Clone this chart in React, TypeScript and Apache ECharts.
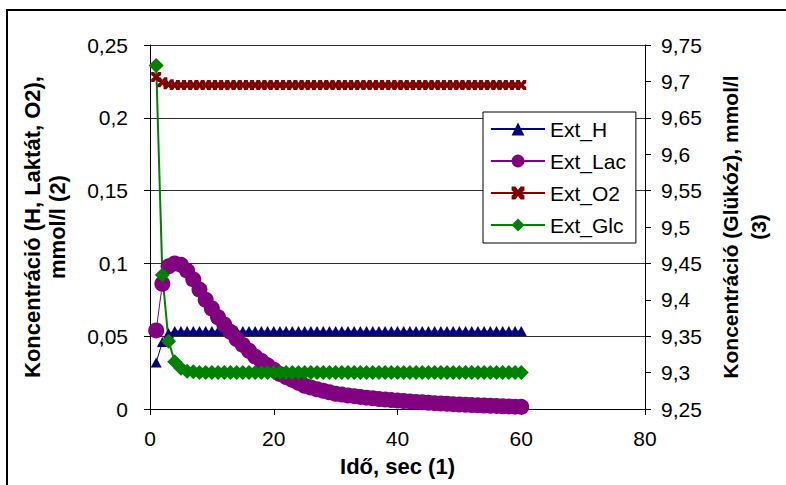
import React, { useEffect, useRef } from "react";
import * as echarts from "echarts";

const timeSec = [
  1, 2, 3, 4, 5, 6, 7, 8, 9, 10, 11, 12, 13, 14, 15, 16, 17, 18, 19, 20,
  21, 22, 23, 24, 25, 26, 27, 28, 29, 30, 31, 32, 33, 34, 35, 36, 37, 38, 39, 40,
  41, 42, 43, 44, 45, 46, 47, 48, 49, 50, 51, 52, 53, 54, 55, 56, 57, 58, 59, 60,
];

const extH = [
  0.032, 0.046, 0.052, 0.0535, 0.0535, 0.0535, 0.0535, 0.0535, 0.0535, 0.0535,
  0.0535, 0.0535, 0.0535, 0.0535, 0.0535, 0.0535, 0.0535, 0.0535, 0.0535, 0.0535,
  0.0535, 0.0535, 0.0535, 0.0535, 0.0535, 0.0535, 0.0535, 0.0535, 0.0535, 0.0535,
  0.0535, 0.0535, 0.0535, 0.0535, 0.0535, 0.0535, 0.0535, 0.0535, 0.0535, 0.0535,
  0.0535, 0.0535, 0.0535, 0.0535, 0.0535, 0.0535, 0.0535, 0.0535, 0.0535, 0.0535,
  0.0535, 0.0535, 0.0535, 0.0535, 0.0535, 0.0535, 0.0535, 0.0535, 0.0535, 0.0535,
];

const extLac = [
  0.054, 0.086, 0.098, 0.1, 0.099, 0.095, 0.089, 0.082, 0.075, 0.069,
  0.063, 0.058, 0.053, 0.048, 0.044, 0.04, 0.036, 0.033, 0.03, 0.027,
  0.024, 0.022, 0.02, 0.018, 0.016, 0.0148, 0.0136, 0.0125, 0.0115, 0.0105,
  0.0099, 0.0093, 0.0088, 0.0083, 0.0078, 0.0074, 0.0069, 0.0065, 0.0061, 0.0058,
  0.0055, 0.0052, 0.0048, 0.0046, 0.0043, 0.004, 0.0038, 0.0036, 0.0033, 0.0031,
  0.0029, 0.0027, 0.0025, 0.0024, 0.0022, 0.0021, 0.0019, 0.0018, 0.0016, 0.0015,
];

const extO2 = [
  0.228, 0.2245, 0.223, 0.2225, 0.2225, 0.2225, 0.2225, 0.2225, 0.2225, 0.2225,
  0.2225, 0.2225, 0.2225, 0.2225, 0.2225, 0.2225, 0.2225, 0.2225, 0.2225, 0.2225,
  0.2225, 0.2225, 0.2225, 0.2225, 0.2225, 0.2225, 0.2225, 0.2225, 0.2225, 0.2225,
  0.2225, 0.2225, 0.2225, 0.2225, 0.2225, 0.2225, 0.2225, 0.2225, 0.2225, 0.2225,
  0.2225, 0.2225, 0.2225, 0.2225, 0.2225, 0.2225, 0.2225, 0.2225, 0.2225, 0.2225,
  0.2225, 0.2225, 0.2225, 0.2225, 0.2225, 0.2225, 0.2225, 0.2225, 0.2225, 0.2225,
];

const extGlc = [
  9.722, 9.434, 9.343, 9.315, 9.306, 9.302, 9.301, 9.3, 9.3, 9.3,
  9.3, 9.3, 9.3, 9.3, 9.3, 9.3, 9.3, 9.3, 9.3, 9.3,
  9.3, 9.3, 9.3, 9.3, 9.3, 9.3, 9.3, 9.3, 9.3, 9.3,
  9.3, 9.3, 9.3, 9.3, 9.3, 9.3, 9.3, 9.3, 9.3, 9.3,
  9.3, 9.3, 9.3, 9.3, 9.3, 9.3, 9.3, 9.3, 9.3, 9.3,
  9.3, 9.3, 9.3, 9.3, 9.3, 9.3, 9.3, 9.3, 9.3, 9.3,
];

const seriesNames = ["Ext_H", "Ext_Lac", "Ext_O2", "Ext_Glc"];
const xTitle = "Idő, sec (1)";
const yLeftTitle = "Koncentráció (H, Laktát, O2),\nmmol/l (2)";
const yRightTitle = "Koncentráció (Glükóz), mmol/l\n(3)";

const FONT = "'Liberation Sans', Arial, sans-serif";
const X_SYMBOL =
  "path://M0,0L3,0L5,2.6L7,0L10,0L10,3L7.4,5L10,7L10,10L7,10L5,7.4L3,10L0,10L0,7L2.6,5L0,3Z";

const fmt = (v: number) => String(Number(v.toFixed(2))).replace(".", ",");

const pairs = (ys: number[]) => ys.map((y, i) => [timeSec[i], y]);

export default function App() {
  const ref = useRef<HTMLDivElement>(null);
  useEffect(() => {
    if (!ref.current) return;
    const chart = echarts.init(ref.current, null, { renderer: "svg" });
    const labelStyle = { color: "#000", fontSize: 21, fontFamily: FONT };
    const axisLine = { show: true, lineStyle: { color: "#000", width: 1 } };
    const axisTick = { show: true, inside: false, length: 6, lineStyle: { color: "#000" } };
    chart.setOption({
      animation: false,
      backgroundColor: "#fff",
      graphic: [
        {
          type: "rect",
          shape: { x: 7, y: 10, width: 800, height: 500 },
          style: { fill: "none", stroke: "#000", lineWidth: 2 },
          z: -10,
        },
      ],
      grid: { left: 150, right: 141, top: 45, bottom: 76, containLabel: false },
      legend: {
        orient: "vertical",
        left: 483,
        top: 112,
        padding: [6, 10, 7, 7],
        itemGap: 10,
        itemWidth: 54,
        itemHeight: 16,
        borderColor: "#000",
        borderWidth: 1,
        backgroundColor: "#fff",
        data: seriesNames,
        textStyle: { color: "#000", fontSize: 21, fontFamily: FONT, lineHeight: 22 },
      },
      xAxis: {
        type: "value",
        min: 0,
        max: 80,
        interval: 20,
        name: xTitle,
        nameLocation: "middle",
        nameGap: 46,
        nameTextStyle: { color: "#000", fontSize: 22, fontWeight: "bold", fontFamily: FONT },
        axisLine,
        axisTick,
        axisLabel: { ...labelStyle, margin: 19 },
        splitLine: { show: false },
      },
      yAxis: [
        {
          type: "value",
          position: "left",
          min: 0,
          max: 0.25,
          interval: 0.05,
          name: yLeftTitle,
          nameLocation: "middle",
          nameRotate: 90,
          nameGap: 80,
          nameTextStyle: {
            color: "#000",
            fontSize: 22,
            fontWeight: "bold",
            fontFamily: FONT,
            lineHeight: 25,
          },
          axisLine,
          axisTick,
          axisLabel: { ...labelStyle, margin: 22, formatter: fmt },
          splitLine: { show: true, lineStyle: { color: "#303030", width: 1 } },
        },
        {
          type: "value",
          position: "right",
          min: 9.25,
          max: 9.75,
          interval: 0.05,
          name: yRightTitle,
          nameLocation: "middle",
          nameRotate: 90,
          nameGap: 71,
          nameTextStyle: {
            color: "#000",
            fontSize: 21,
            fontWeight: "bold",
            fontFamily: FONT,
            lineHeight: 28,
          },
          axisLine,
          axisTick,
          axisLabel: { ...labelStyle, margin: 16, formatter: fmt },
          splitLine: { show: false },
        },
      ],
      series: [
        {
          name: "Ext_H",
          type: "line",
          yAxisIndex: 0,
          data: pairs(extH),
          symbol: "triangle",
          symbolSize: [11, 10],
          itemStyle: { color: "#000080" },
          lineStyle: { color: "#000080", width: 1 },
        },
        {
          name: "Ext_Lac",
          type: "line",
          yAxisIndex: 0,
          data: pairs(extLac),
          symbol: "circle",
          symbolSize: 16,
          itemStyle: { color: "#800080" },
          lineStyle: { color: "#800080", width: 1 },
        },
        {
          name: "Ext_O2",
          type: "line",
          yAxisIndex: 0,
          data: pairs(extO2),
          symbol: X_SYMBOL,
          symbolSize: 10,
          itemStyle: { color: "#800000" },
          lineStyle: { color: "#800000", width: 1 },
        },
        {
          name: "Ext_Glc",
          type: "line",
          yAxisIndex: 1,
          data: pairs(extGlc),
          symbol: "diamond",
          symbolSize: 15,
          itemStyle: { color: "#008000" },
          lineStyle: { color: "#008000", width: 2 },
        },
      ],
    });
    return () => chart.dispose();
  }, []);
  return (
    <div
      ref={ref}
      style={{ position: "fixed", left: 0, top: 0, width: 786, height: 485, background: "#fff" }}
    />
  );
}
